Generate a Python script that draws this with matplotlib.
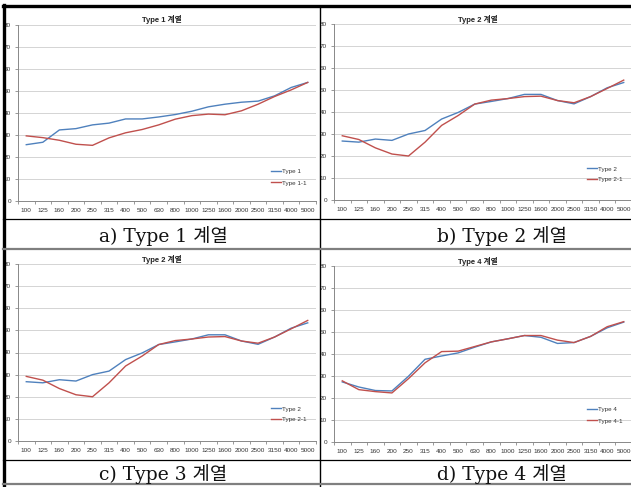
import numpy as np
import matplotlib
matplotlib.use("Agg")
import matplotlib.pyplot as plt
from matplotlib.lines import Line2D

W, H = 631, 487

FREQS = ["100", "125", "160", "200", "250", "315", "400", "500", "630", "800",
         "1000", "1250", "1600", "2000", "2500", "3150", "4000", "5000"]

TYPE1 = [25.6, 26.7, 32.3, 32.9, 34.6, 35.4, 37.3, 37.3, 38.2, 39.3,
         40.8, 42.8, 44.0, 44.9, 45.4, 47.8, 51.6, 53.9]
TYPE1_1 = [29.6, 28.8, 27.6, 25.8, 25.3, 28.7, 31.0, 32.5, 34.6, 37.2,
           38.8, 39.5, 39.2, 41.0, 44.0, 47.5, 50.5, 53.9]

TYPE2 = [26.8, 26.3, 27.7, 27.1, 30.0, 31.6, 36.8, 39.8, 43.6, 44.8,
         46.1, 48.0, 48.0, 45.2, 43.7, 47.0, 51.0, 53.4]
TYPE2_1 = [29.2, 27.5, 23.7, 20.9, 20.0, 26.3, 33.9, 38.4, 43.6, 45.4,
           46.1, 47.0, 47.2, 45.2, 44.2, 47.0, 50.7, 54.5]

TYPE4 = [27.3, 25.0, 23.4, 23.2, 29.9, 37.6, 39.1, 40.5, 43.1, 45.5,
         46.9, 48.4, 47.6, 44.8, 45.2, 48.0, 51.9, 54.5]
TYPE4_1 = [27.8, 23.8, 22.9, 22.3, 28.8, 36.0, 41.1, 41.3, 43.4, 45.5,
           46.9, 48.4, 48.4, 46.3, 45.2, 48.0, 52.4, 54.7]

BLUE, RED = "#4F81BD", "#C0504D"
SANS = ["Liberation Sans", "Noto Sans CJK KR"]
CAP = ["DejaVu Serif", "Noto Sans CJK KR"]

# panel: (left, right, top, bottom) in pixels, title, series, legend labels, legend pos
PANELS = [
    ((18, 316, 25, 201), "Type 1 계열", (TYPE1, TYPE1_1), ("Type 1", "Type 1-1"), (268, 166)),
    ((334, 632, 24, 200), "Type 2 계열", (TYPE2, TYPE2_1), ("Type 2", "Type 2-1"), (584, 163)),
    ((18, 316, 264, 441), "Type 2 계열", (TYPE2, TYPE2_1), ("Type 2", "Type 2-1"), (268, 403)),
    ((334, 632, 266, 442), "Type 4 계열", (TYPE4, TYPE4_1), ("Type 4", "Type 4-1"), (584, 404)),
]
CAPTIONS = [("a) Type 1 계열", 163, 236), ("b) Type 2 계열", 502, 236),
            ("c) Type 3 계열", 163, 474), ("d) Type 4 계열", 502, 474)]

fig = plt.figure(figsize=(W / 100, H / 100), dpi=100)


def fx(x):
    return x / W


def fy(y):
    return 1 - y / H


x = np.arange(len(FREQS))
for (l, r, t, b), title, (s1, s2), labels, (lx, ly) in PANELS:
    ax = fig.add_axes([fx(l), fy(b), (r - l) / W, (b - t) / H])
    ax.plot(x, s1, color=BLUE, lw=1.0, label=labels[0])
    ax.plot(x, s2, color=RED, lw=1.0, label=labels[1])
    ax.set_xlim(-0.5, len(FREQS) - 0.5)
    ax.set_ylim(0, 80)
    ax.set_yticks(range(0, 81, 10))
    ax.set_xticks(x)
    ax.set_xticklabels(FREQS)
    ax.set_xticks(np.arange(-0.5, len(FREQS), 1), minor=True)
    ax.tick_params(axis="x", which="major", length=0, pad=5, labelsize=4.6, labelcolor="#333333")
    ax.tick_params(axis="x", which="minor", length=2.5, width=0.6, color="#888888", direction="out")
    ax.tick_params(axis="y", length=2.5, width=0.6, color="#888888", pad=2.5,
                   labelsize=4.6, labelcolor="#333333")
    for lab in ax.get_xticklabels() + ax.get_yticklabels():
        lab.set_family(SANS)
    ax.grid(axis="y", color="#D4D4D4", lw=0.7)
    ax.set_axisbelow(True)
    for sp in ("top", "right"):
        ax.spines[sp].set_visible(False)
    for sp in ("left", "bottom"):
        ax.spines[sp].set_color("#888888")
        ax.spines[sp].set_linewidth(0.7)
    fig.text(fx((l + r) / 2 - 5), fy(t - 5), title, ha="center", va="center",
             fontsize=5.5, fontweight="bold", family=SANS, color="#222222")
    leg = ax.legend(loc="upper left", bbox_to_anchor=(fx(lx), fy(ly)),
                    bbox_transform=fig.transFigure, frameon=False, fontsize=4.5,
                    handlelength=1.6, handletextpad=0.2, labelspacing=0.9, borderpad=0)
    for txt in leg.get_texts():
        txt.set_family(SANS)
        txt.set_color("#333333")

for text, cx, cy in CAPTIONS:
    fig.text(fx(cx), fy(cy), text, ha="center", va="center", fontsize=13.5,
             family=CAP, fontweight="light", color="#111111")


# table borders
def hline(y, x0, x1, lw, color="black"):
    fig.add_artist(Line2D([fx(x0), fx(x1)], [fy(y), fy(y)], lw=lw, color=color))


def vline(x0, y0, y1, lw, color="black"):
    fig.add_artist(Line2D([fx(x0), fx(x0)], [fy(y0), fy(y1)], lw=lw, color=color))


hline(6, 3, W, 2.4)
vline(4, 5, H, 2.4)
vline(319.5, 6, H, 1.0)
hline(219.5, 3, W, 0.9)
hline(249, 3, W, 1.6, "#7F7F7F")
hline(459.5, 3, W, 0.9)
hline(484, 3, W, 1.6, "#7F7F7F")

fig.savefig("out.png", dpi=100)
